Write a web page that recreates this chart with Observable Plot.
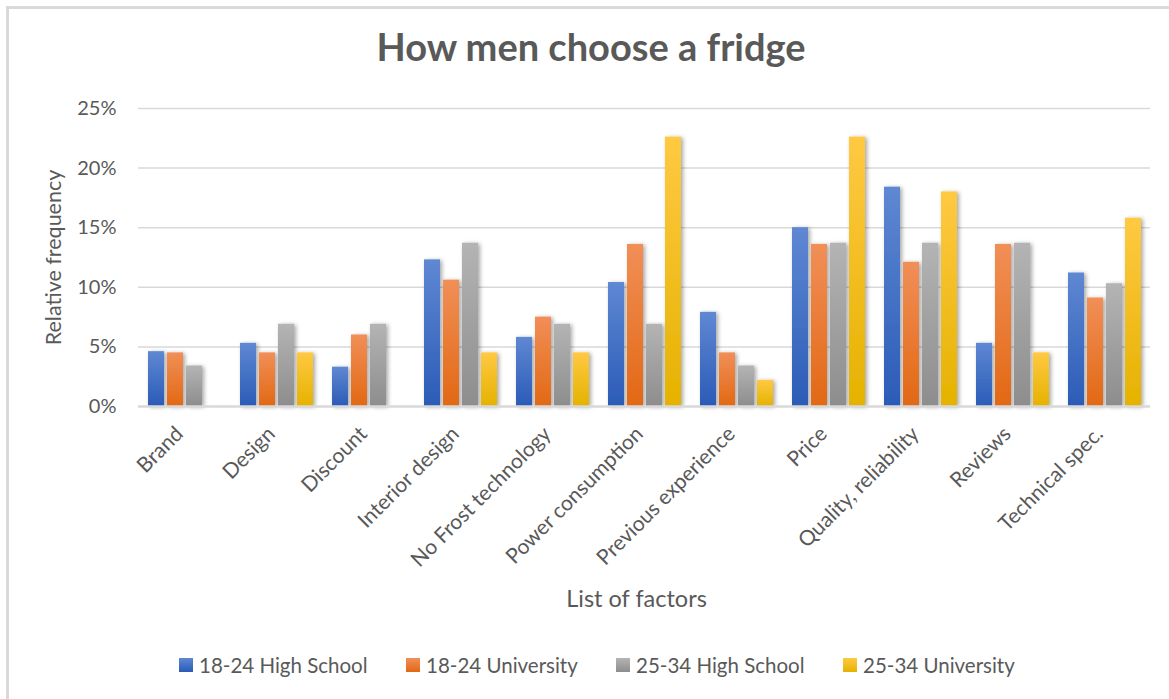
<!DOCTYPE html>
<html><head><meta charset="utf-8">
<script src="https://cdn.jsdelivr.net/npm/d3@7"></script>
<script src="https://cdn.jsdelivr.net/npm/@observablehq/plot@0.6"></script>
<style>
html,body{margin:0;padding:0;background:#fff;overflow:hidden;}
body{width:1169px;height:699px;position:relative;font-family:Lato,"Open Sans",sans-serif;color:#595959;}
#border{position:absolute;left:6px;top:6px;width:1300px;height:800px;border-left:3px solid #d9d9d9;border-top:3px solid #d9d9d9;}
#title{position:absolute;left:6px;width:1170px;top:24px;text-align:center;font-weight:700;font-size:38px;line-height:44px;color:#595959;}
#chart{position:absolute;left:0;top:90px;}
.item{position:absolute;top:652px;height:26px;display:flex;align-items:center;font-size:20.5px;color:#595959;white-space:nowrap;}
.sw{width:14px;height:14px;margin-right:6px;}
</style></head>
<body>
<div id="border"></div>
<div id="title">How men choose a fridge</div>
<div id="chart"></div>
<div id="legend"></div>
<script>
const categories = ["Brand","Design","Discount","Interior design","No Frost technology","Power consumption","Previous experience","Price","Quality, reliability","Reviews","Technical spec."];
const series = ["18-24 High School","18-24 University","25-34 High School","25-34 University"];
const hs1824  = [4.6, 5.3, 3.3, 12.3, 5.8, 10.4, 7.9, 15.0, 18.4, 5.3, 11.2];
const uni1824 = [4.5, 4.5, 6.0, 10.6, 7.5, 13.6, 4.5, 13.6, 12.1, 13.6, 9.1];
const hs2534  = [3.4, 6.9, 6.9, 13.7, 6.9, 6.9, 3.4, 13.7, 13.7, 13.7, 10.3];
const uni2534 = [0, 4.5, 0, 4.5, 4.5, 22.6, 2.2, 22.6, 18.0, 4.5, 15.8];
const yTicks = [0, 5, 10, 15, 20, 25];

const seriesValues = [hs1824, uni1824, hs2534, uni2534];
const rows = [];
categories.forEach((c, i) => seriesValues.forEach((vals, j) => rows.push({category: c, series: series[j], value: vals[i]})));

const grads = [
  {id: "gBlue", top: "#5f88d3", bottom: "#2b5bb7"},
  {id: "gOrange", top: "#f18f57", bottom: "#e26814"},
  {id: "gGray", top: "#b4b4b4", bottom: "#8d8d8d"},
  {id: "gGold", top: "#ffc943", bottom: "#e5b200"}
];

const chart = Plot.plot({
  width: 1169, height: 530,
  marginLeft: 138, marginRight: 19, marginTop: 18, marginBottom: 214,
  fx: {domain: categories, padding: 0},
  x: {domain: series, paddingInner: 0.17, paddingOuter: 0.43, axis: null},
  y: {domain: [0, 25], axis: null},
  color: {domain: series, range: grads.map(g => `url(#${g.id})`)},
  style: {fontFamily: "Lato, 'Open Sans', sans-serif", color: "#595959", background: "transparent", overflow: "visible"},
  marks: [
    Plot.gridY(yTicks.slice(1), {stroke: "#d9d9d9", strokeOpacity: 1, strokeWidth: 1.5}),
    Plot.barY(rows, {fx: "category", x: "series", y: "value", fill: "series"}),
    Plot.ruleY([0], {stroke: "#d9d9d9", strokeWidth: 2.5}),
    Plot.axisY(yTicks, {tickSize: 0, tickPadding: 22, tickFormat: d => d + "%", fontSize: 20, label: "Relative frequency", labelArrow: "none", labelAnchor: "center", labelOffset: 93}),
    Plot.axisFx({anchor: "bottom", tickSize: 0, tickPadding: 24, dx: -5, tickRotate: -45, fontSize: 21, label: "List of factors", labelArrow: "none", labelAnchor: "center", labelOffset: 200})
  ]
});

const ns = "http://www.w3.org/2000/svg";
const defs = document.createElementNS(ns, "defs");
for (const g of grads) {
  const lg = document.createElementNS(ns, "linearGradient");
  lg.setAttribute("id", g.id); lg.setAttribute("x1", 0); lg.setAttribute("y1", 0); lg.setAttribute("x2", 0); lg.setAttribute("y2", 1);
  const s1 = document.createElementNS(ns, "stop"); s1.setAttribute("offset", "0"); s1.setAttribute("stop-color", g.top);
  const s2 = document.createElementNS(ns, "stop"); s2.setAttribute("offset", "1"); s2.setAttribute("stop-color", g.bottom);
  lg.append(s1, s2); defs.append(lg);
}
const f = document.createElementNS(ns, "filter");
f.setAttribute("id", "shadow"); f.setAttribute("x", "-50%"); f.setAttribute("y", "-10%"); f.setAttribute("width", "200%"); f.setAttribute("height", "120%");
const ds = document.createElementNS(ns, "feDropShadow");
ds.setAttribute("dx", "2"); ds.setAttribute("dy", "1"); ds.setAttribute("stdDeviation", "2"); ds.setAttribute("flood-color", "#000"); ds.setAttribute("flood-opacity", "0.35");
f.append(ds); defs.append(f);
chart.insertBefore(defs, chart.firstChild);
chart.querySelectorAll('g[aria-label="bar"]').forEach(g => g.setAttribute("filter", "url(#shadow)"));
const fxLabel = chart.querySelector('g[aria-label="fx-axis label"]');
if (fxLabel) {
  fxLabel.setAttribute("font-size", "23.5");
  const t0 = fxLabel.getAttribute("transform") || "";
  fxLabel.setAttribute("transform", ("translate(-8,0) " + t0).trim());
}
const yLabel = chart.querySelector('g[aria-label="y-axis label"]');
if (yLabel) yLabel.setAttribute("font-size", "21.5");
document.getElementById("chart").append(chart);

const legendX = [179, 406, 616, 843];
const legend = document.getElementById("legend");
series.forEach((s, i) => {
  const item = document.createElement("div");
  item.className = "item"; item.style.left = legendX[i] + "px";
  const sw = document.createElement("div"); sw.className = "sw";
  sw.style.background = `linear-gradient(${grads[i].top}, ${grads[i].bottom})`;
  const t = document.createElement("span"); t.textContent = s;
  item.append(sw, t); legend.append(item);
});
</script>
</body></html>
